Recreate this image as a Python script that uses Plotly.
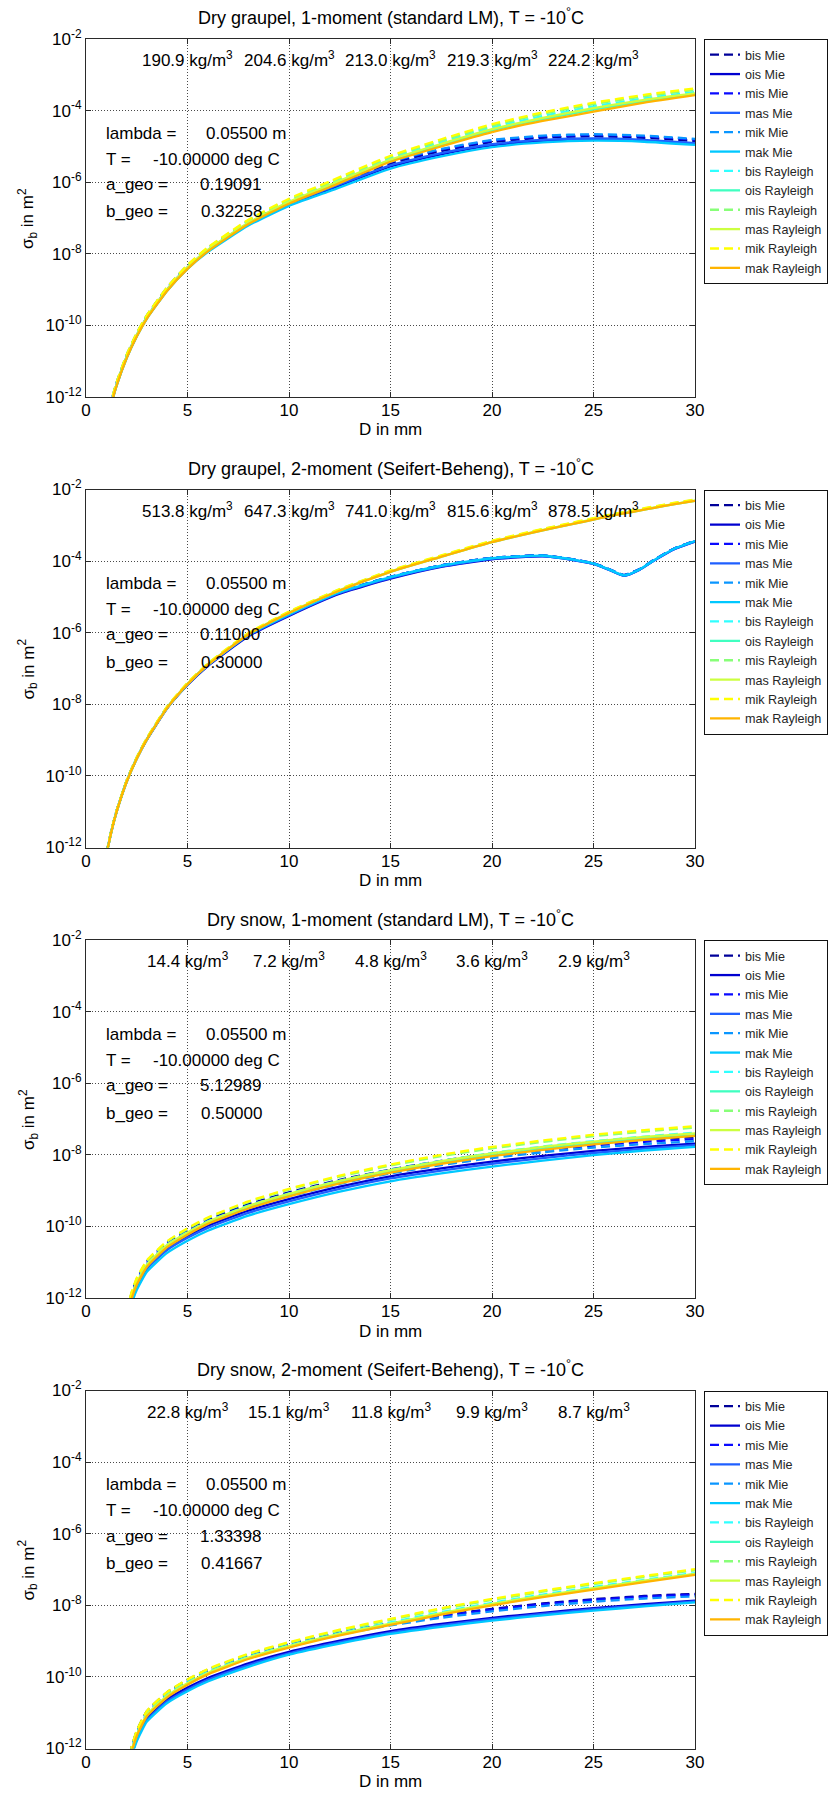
import plotly.graph_objects as go

# ---------------------------------------------------------------------------
# Backscatter cross sections sigma_b (given as log10 of m^2) versus D in mm
# ---------------------------------------------------------------------------
SERIES_NAMES = ["bis Mie", "ois Mie", "mis Mie", "mas Mie", "mik Mie", "mak Mie",
                "bis Rayleigh", "ois Rayleigh", "mis Rayleigh", "mas Rayleigh",
                "mik Rayleigh", "mak Rayleigh"]

# --- dry graupel, 1-moment ---------------------------------------------------
G1_D = [1.0, 1.25, 1.5, 2.0, 2.5, 3.0, 4.0, 5.0, 6.0, 8.0, 10.0, 12.0, 15.0,
        17.5, 20.0, 22.5, 25.0, 27.5, 30.0]
G1_BIS_MIE = [-12.76, -12.14, -11.64, -10.86, -10.25, -9.75, -8.97, -8.36, -7.88, -7.12, -6.56, -6.13, -5.48, -5.13, -4.88, -4.76, -4.72, -4.76, -4.85]
G1_OIS_MIE = [-12.80, -12.18, -11.68, -10.90, -10.29, -9.79, -9.01, -8.40, -7.92, -7.17, -6.62, -6.20, -5.56, -5.22, -4.97, -4.85, -4.81, -4.85, -4.93]
G1_MIS_MIE = [-12.74, -12.12, -11.62, -10.84, -10.23, -9.73, -8.95, -8.33, -7.85, -7.09, -6.53, -6.09, -5.44, -5.09, -4.84, -4.72, -4.68, -4.72, -4.81]
G1_MAS_MIE = [-12.78, -12.16, -11.66, -10.88, -10.27, -9.77, -8.99, -8.38, -7.90, -7.15, -6.60, -6.17, -5.53, -5.19, -4.94, -4.82, -4.78, -4.82, -4.91]
G1_MIK_MIE = [-12.73, -12.11, -11.61, -10.83, -10.22, -9.72, -8.94, -8.32, -7.84, -7.08, -6.51, -6.07, -5.42, -5.07, -4.82, -4.70, -4.66, -4.70, -4.79]
G1_MAK_MIE = [-12.82, -12.20, -11.70, -10.92, -10.31, -9.81, -9.03, -8.42, -7.95, -7.21, -6.66, -6.25, -5.62, -5.28, -5.02, -4.89, -4.84, -4.87, -4.96]
G1_BIS_RAY = [-12.76, -12.14, -11.64, -10.86, -10.25, -9.75, -8.97, -8.36, -7.87, -7.10, -6.52, -6.05, -5.34, -4.89, -4.47, -4.15, -3.88, -3.66, -3.48]
G1_OIS_RAY = [-12.80, -12.18, -11.68, -10.90, -10.29, -9.79, -9.01, -8.40, -7.91, -7.15, -6.57, -6.11, -5.40, -4.96, -4.55, -4.24, -3.97, -3.74, -3.55]
G1_MIS_RAY = [-12.74, -12.12, -11.62, -10.84, -10.23, -9.73, -8.95, -8.33, -7.84, -7.07, -6.49, -6.01, -5.29, -4.84, -4.42, -4.09, -3.82, -3.60, -3.42]
G1_MAS_RAY = [-12.78, -12.16, -11.66, -10.88, -10.27, -9.77, -8.99, -8.38, -7.89, -7.13, -6.55, -6.08, -5.37, -4.93, -4.52, -4.20, -3.93, -3.70, -3.52]
G1_MIK_RAY = [-12.72, -12.10, -11.60, -10.82, -10.21, -9.71, -8.93, -8.31, -7.82, -7.05, -6.46, -5.98, -5.26, -4.80, -4.38, -4.05, -3.78, -3.56, -3.38]
G1_MAK_RAY = [-12.82, -12.20, -11.70, -10.92, -10.31, -9.81, -9.03, -8.42, -7.93, -7.17, -6.60, -6.14, -5.43, -5.00, -4.60, -4.29, -4.03, -3.78, -3.57]

# --- dry graupel, 2-moment ---------------------------------------------------
G2_D = [1.0, 1.25, 1.5, 2.0, 2.5, 3.0, 4.0, 5.0, 6.0, 8.0, 10.0, 12.5, 15.0,
        17.5, 20.0, 22.5, 24.0, 25.0, 25.75, 26.5, 27.25, 28.0, 29.0, 30.0]
G2_BIS_MIE = [-12.19, -11.53, -10.99, -10.14, -9.49, -8.96, -8.08, -7.43, -6.89, -6.05, -5.48, -4.86, -4.44, -4.12, -3.91, -3.84, -3.95, -4.06, -4.22, -4.39, -4.23, -3.96, -3.64, -3.43]
G2_OIS_MIE = [-12.21, -11.56, -11.02, -10.17, -9.52, -8.99, -8.11, -7.46, -6.93, -6.10, -5.53, -4.91, -4.49, -4.16, -3.95, -3.87, -3.97, -4.08, -4.24, -4.41, -4.25, -3.98, -3.66, -3.45]
G2_MIS_MIE = [-12.19, -11.53, -10.99, -10.14, -9.49, -8.96, -8.08, -7.43, -6.89, -6.05, -5.48, -4.86, -4.44, -4.12, -3.91, -3.84, -3.95, -4.06, -4.22, -4.39, -4.23, -3.96, -3.64, -3.43]
G2_MAS_MIE = [-12.21, -11.55, -11.01, -10.16, -9.51, -8.98, -8.10, -7.45, -6.91, -6.08, -5.51, -4.89, -4.47, -4.15, -3.93, -3.86, -3.97, -4.08, -4.24, -4.41, -4.25, -3.98, -3.66, -3.45]
G2_MIK_MIE = [-12.19, -11.53, -10.99, -10.14, -9.49, -8.96, -8.08, -7.43, -6.89, -6.05, -5.48, -4.86, -4.44, -4.12, -3.91, -3.84, -3.95, -4.06, -4.22, -4.39, -4.23, -3.96, -3.64, -3.43]
G2_MAK_MIE = [-12.20, -11.54, -11.00, -10.15, -9.50, -8.97, -8.09, -7.44, -6.90, -6.06, -5.49, -4.87, -4.45, -4.13, -3.92, -3.85, -3.96, -4.07, -4.23, -4.40, -4.24, -3.97, -3.65, -3.44]
G2_BIS_RAY = [-12.20, -11.54, -11.00, -10.15, -9.50, -8.96, -8.08, -7.42, -6.88, -6.03, -5.43, -4.80, -4.28, -3.86, -3.45, -3.12, -2.94, -2.82, -2.73, -2.65, -2.57, -2.49, -2.39, -2.30]
G2_OIS_RAY = [-12.22, -11.56, -11.02, -10.17, -9.52, -8.98, -8.10, -7.44, -6.90, -6.05, -5.45, -4.82, -4.30, -3.88, -3.47, -3.14, -2.96, -2.84, -2.75, -2.67, -2.59, -2.51, -2.41, -2.32]
G2_MIS_RAY = [-12.19, -11.53, -10.99, -10.14, -9.49, -8.95, -8.07, -7.41, -6.87, -6.02, -5.42, -4.79, -4.27, -3.85, -3.44, -3.11, -2.93, -2.81, -2.72, -2.64, -2.56, -2.48, -2.38, -2.29]
G2_MAS_RAY = [-12.21, -11.55, -11.01, -10.16, -9.51, -8.97, -8.09, -7.43, -6.89, -6.04, -5.44, -4.81, -4.29, -3.87, -3.46, -3.13, -2.95, -2.83, -2.74, -2.66, -2.58, -2.50, -2.40, -2.31]
G2_MIK_RAY = [-12.18, -11.52, -10.98, -10.13, -9.48, -8.94, -8.06, -7.40, -6.86, -6.01, -5.41, -4.78, -4.26, -3.84, -3.43, -3.10, -2.92, -2.80, -2.71, -2.63, -2.55, -2.47, -2.37, -2.28]
G2_MAK_RAY = [-12.22, -11.56, -11.02, -10.17, -9.52, -8.98, -8.10, -7.44, -6.90, -6.05, -5.45, -4.82, -4.30, -3.88, -3.47, -3.14, -2.96, -2.84, -2.75, -2.67, -2.59, -2.51, -2.41, -2.32]

# --- dry snow, 1-moment ------------------------------------------------------
S1_D = [2.0, 2.25, 2.5, 3.0, 4.0, 5.0, 6.0, 8.0, 10.0, 12.5, 15.0, 17.5, 20.0,
        22.5, 25.0, 27.5, 30.0]
S1_BIS_MIE = [-12.42, -11.86, -11.48, -10.98, -10.45, -10.10, -9.81, -9.38, -9.05, -8.70, -8.41, -8.17, -7.97, -7.81, -7.68, -7.58, -7.50]
S1_OIS_MIE = [-12.62, -12.04, -11.65, -11.14, -10.61, -10.27, -9.98, -9.56, -9.24, -8.89, -8.60, -8.38, -8.19, -8.03, -7.89, -7.78, -7.69]
S1_MIS_MIE = [-12.46, -11.90, -11.52, -11.02, -10.49, -10.14, -9.85, -9.42, -9.10, -8.75, -8.46, -8.23, -8.03, -7.87, -7.74, -7.64, -7.56]
S1_MAS_MIE = [-12.66, -12.08, -11.70, -11.19, -10.66, -10.32, -10.04, -9.62, -9.30, -8.95, -8.66, -8.44, -8.25, -8.09, -7.95, -7.83, -7.73]
S1_MIK_MIE = [-12.50, -11.94, -11.56, -11.06, -10.53, -10.19, -9.90, -9.48, -9.16, -8.81, -8.52, -8.29, -8.09, -7.93, -7.80, -7.70, -7.62]
S1_MAK_MIE = [-12.74, -12.16, -11.78, -11.27, -10.74, -10.40, -10.12, -9.70, -9.38, -9.03, -8.74, -8.52, -8.33, -8.16, -8.01, -7.88, -7.78]
S1_BIS_RAY = [-12.50, -11.94, -11.56, -11.06, -10.51, -10.16, -9.86, -9.42, -9.08, -8.72, -8.42, -8.17, -7.95, -7.77, -7.62, -7.49, -7.38]
S1_OIS_RAY = [-12.56, -11.99, -11.61, -11.11, -10.56, -10.21, -9.91, -9.47, -9.13, -8.77, -8.47, -8.22, -8.01, -7.83, -7.68, -7.55, -7.45]
S1_MIS_RAY = [-12.40, -11.85, -11.46, -10.97, -10.43, -10.07, -9.77, -9.32, -8.97, -8.61, -8.30, -8.04, -7.82, -7.64, -7.48, -7.35, -7.24]
S1_MAS_RAY = [-12.51, -11.95, -11.57, -11.07, -10.52, -10.17, -9.87, -9.43, -9.09, -8.73, -8.43, -8.18, -7.96, -7.78, -7.63, -7.50, -7.40]
S1_MIK_RAY = [-12.38, -11.83, -11.44, -10.95, -10.41, -10.05, -9.75, -9.30, -8.95, -8.58, -8.27, -8.00, -7.78, -7.60, -7.44, -7.31, -7.20]
S1_MAK_RAY = [-12.58, -12.01, -11.63, -11.13, -10.58, -10.23, -9.93, -9.50, -9.16, -8.80, -8.50, -8.25, -8.04, -7.86, -7.71, -7.58, -7.47]

# --- dry snow, 2-moment ------------------------------------------------------
S2_D = [2.0, 2.25, 2.5, 3.0, 4.0, 5.0, 6.0, 8.0, 10.0, 12.5, 15.0, 17.5, 20.0,
        22.5, 25.0, 27.5, 30.0]
S2_BIS_MIE = [-12.56, -11.96, -11.51, -10.96, -10.43, -10.08, -9.80, -9.38, -9.08, -8.76, -8.50, -8.28, -8.10, -7.95, -7.83, -7.74, -7.68]
S2_OIS_MIE = [-12.75, -12.15, -11.70, -11.15, -10.63, -10.30, -10.03, -9.62, -9.30, -8.99, -8.72, -8.52, -8.35, -8.21, -8.08, -7.97, -7.87]
S2_MIS_MIE = [-12.58, -11.98, -11.53, -10.98, -10.45, -10.10, -9.82, -9.40, -9.10, -8.78, -8.52, -8.30, -8.12, -7.97, -7.85, -7.76, -7.70]
S2_MAS_MIE = [-12.80, -12.20, -11.75, -11.20, -10.68, -10.35, -10.08, -9.67, -9.34, -9.03, -8.76, -8.56, -8.39, -8.24, -8.11, -8.00, -7.89]
S2_MIK_MIE = [-12.62, -12.02, -11.57, -11.02, -10.49, -10.14, -9.86, -9.44, -9.14, -8.82, -8.56, -8.35, -8.17, -8.02, -7.90, -7.81, -7.75]
S2_MAK_MIE = [-12.85, -12.25, -11.80, -11.25, -10.73, -10.40, -10.13, -9.72, -9.38, -9.07, -8.80, -8.60, -8.43, -8.28, -8.15, -8.03, -7.92]
S2_BIS_RAY = [-12.64, -12.04, -11.59, -11.04, -10.51, -10.16, -9.87, -9.44, -9.12, -8.78, -8.48, -8.19, -7.93, -7.70, -7.49, -7.29, -7.10]
S2_OIS_RAY = [-12.68, -12.08, -11.63, -11.08, -10.55, -10.20, -9.91, -9.48, -9.16, -8.82, -8.53, -8.24, -7.98, -7.75, -7.54, -7.33, -7.13]
S2_MIS_RAY = [-12.57, -11.97, -11.52, -10.97, -10.44, -10.09, -9.80, -9.37, -9.05, -8.71, -8.41, -8.11, -7.85, -7.62, -7.41, -7.21, -7.02]
S2_MAS_RAY = [-12.66, -12.06, -11.61, -11.06, -10.53, -10.18, -9.89, -9.46, -9.14, -8.80, -8.51, -8.22, -7.96, -7.73, -7.52, -7.31, -7.12]
S2_MIK_RAY = [-12.55, -11.95, -11.50, -10.95, -10.42, -10.07, -9.78, -9.35, -9.03, -8.68, -8.38, -8.08, -7.82, -7.59, -7.38, -7.18, -6.99]
S2_MAK_RAY = [-12.70, -12.10, -11.65, -11.10, -10.57, -10.22, -9.93, -9.50, -9.18, -8.84, -8.55, -8.26, -8.00, -7.77, -7.56, -7.35, -7.15]

# --- panel texts ---------------------------------------------------------------
TITLES = ["Dry graupel, 1-moment (standard LM), T = -10<sup>°</sup>C",
          "Dry graupel, 2-moment (Seifert-Beheng), T = -10<sup>°</sup>C",
          "Dry snow, 1-moment (standard LM), T = -10<sup>°</sup>C",
          "Dry snow, 2-moment (Seifert-Beheng), T = -10<sup>°</sup>C"]
DENSITY_D = [5, 10, 15, 20, 25]
DENSITIES = [["190.9", "204.6", "213.0", "219.3", "224.2"],
             ["513.8", "647.3", "741.0", "815.6", "878.5"],
             ["14.4", "7.2", "4.8", "3.6", "2.9"],
             ["22.8", "15.1", "11.8", "9.9", "8.7"]]
LAMBDA_TXT = "0.05500 m"
TEMP_TXT = "-10.00000 deg C"
A_GEO = ["0.19091", "0.11000", "5.12989", "1.33398"]
B_GEO = ["0.32258", "0.30000", "0.50000", "0.41667"]

X_TICKS = [0, 5, 10, 15, 20, 25, 30]
Y_EXPONENTS = [-12, -10, -8, -6, -4, -2]

PANELS = [
    (G1_D, [G1_BIS_MIE, G1_OIS_MIE, G1_MIS_MIE, G1_MAS_MIE, G1_MIK_MIE, G1_MAK_MIE,
            G1_BIS_RAY, G1_OIS_RAY, G1_MIS_RAY, G1_MAS_RAY, G1_MIK_RAY, G1_MAK_RAY]),
    (G2_D, [G2_BIS_MIE, G2_OIS_MIE, G2_MIS_MIE, G2_MAS_MIE, G2_MIK_MIE, G2_MAK_MIE,
            G2_BIS_RAY, G2_OIS_RAY, G2_MIS_RAY, G2_MAS_RAY, G2_MIK_RAY, G2_MAK_RAY]),
    (S1_D, [S1_BIS_MIE, S1_OIS_MIE, S1_MIS_MIE, S1_MAS_MIE, S1_MIK_MIE, S1_MAK_MIE,
            S1_BIS_RAY, S1_OIS_RAY, S1_MIS_RAY, S1_MAS_RAY, S1_MIK_RAY, S1_MAK_RAY]),
    (S2_D, [S2_BIS_MIE, S2_OIS_MIE, S2_MIS_MIE, S2_MAS_MIE, S2_MIK_MIE, S2_MAK_MIE,
            S2_BIS_RAY, S2_OIS_RAY, S2_MIS_RAY, S2_MAS_RAY, S2_MIK_RAY, S2_MAK_RAY]),
]

# --- styling -------------------------------------------------------------------
LINE_COLORS = ["#000099", "#0000d0", "#0a0aff", "#1f5fff", "#0a96ff", "#00c8ff",
               "#30ffff", "#40ffc0", "#88ff78", "#ccff40", "#ffff00", "#ffb400"]
LINE_DASHES = ["9px,5px", "solid"] * 6
FONT = "Liberation Sans, Arial, Helvetica, sans-serif"
AXIS_COLOR = "#2a2a2a"

W, H = 828, 1793
AX_LEFT, AX_RIGHT = 86, 695
AX_HEIGHT = 358
PANEL_TOPS = [39, 489.5, 940, 1390.5]


def fx(px):
    return px / W


def fy(py):
    return 1 - py / H


fig = go.Figure()
layout = dict(
    width=W, height=H, autosize=False,
    margin=dict(l=0, r=0, t=0, b=0),
    paper_bgcolor="white", plot_bgcolor="white",
    font=dict(family=FONT, color="black"),
    showlegend=True,
)
annotations = []

for p, (d_vals, series) in enumerate(PANELS):
    suffix = "" if p == 0 else str(p + 1)
    legend_id = "legend" + suffix
    top = PANEL_TOPS[p]
    bottom = top + AX_HEIGHT

    for name, color, dash, log_vals in zip(SERIES_NAMES, LINE_COLORS, LINE_DASHES, series):
        fig.add_trace(go.Scatter(
            x=d_vals, y=[10 ** v for v in log_vals], mode="lines", name=name,
            line=dict(color=color, width=2.3, dash=dash, shape="spline", smoothing=0.5),
            xaxis="x" + suffix, yaxis="y" + suffix, legend=legend_id,
            hoverinfo="skip",
        ))

    axis_common = dict(
        showline=True, linecolor=AXIS_COLOR, linewidth=1, mirror="ticks",
        ticks="inside", ticklen=5, tickcolor=AXIS_COLOR, tickwidth=1,
        showgrid=True, gridcolor="#4a4a4a", gridwidth=1, griddash="1px,2px",
        zeroline=False, automargin=False,
        tickfont=dict(family=FONT, size=17, color="black"),
        fixedrange=True,
    )
    layout["xaxis" + suffix] = dict(
        axis_common, domain=[fx(AX_LEFT), fx(AX_RIGHT)], anchor="y" + suffix,
        range=[0, 30], tickvals=X_TICKS, ticktext=[str(t) for t in X_TICKS],
        ticklabelstandoff=-2,
    )
    layout["yaxis" + suffix] = dict(
        axis_common, domain=[fy(bottom), fy(top)], anchor="x" + suffix,
        type="log", range=[-12, -2],
        tickvals=[10 ** e for e in Y_EXPONENTS],
        ticktext=["10<sup>%d</sup>" % e for e in Y_EXPONENTS],
    )
    # legend box pinned to the right edge of the figure
    layout[legend_id] = dict(
        x=1.0, y=fy(top), xanchor="right", yanchor="top",
        bgcolor="white", bordercolor="#111", borderwidth=1,
        font=dict(family=FONT, size=12.6, color="#262626"),
        itemwidth=30, tracegroupgap=0, traceorder="normal",
        itemclick=False, itemdoubleclick=False,
    )

    # title, axis labels
    annotations.append(dict(
        text=TITLES[p], xref="paper", yref="paper",
        x=fx((AX_LEFT + AX_RIGHT) / 2), y=fy(top - 22),
        xanchor="center", yanchor="middle", showarrow=False,
        font=dict(family=FONT, size=18, color="black"),
    ))
    annotations.append(dict(
        text="D in mm", xref="paper", yref="paper",
        x=fx((AX_LEFT + AX_RIGHT) / 2), y=fy(bottom + 33),
        xanchor="center", yanchor="middle", showarrow=False,
        font=dict(family=FONT, size=17, color="black"),
    ))
    annotations.append(dict(
        text="σ<sub>b</sub> in m<sup>2</sup>", xref="paper", yref="paper",
        x=fx(28), y=fy((top + bottom) / 2), textangle=-90,
        xanchor="center", yanchor="middle", showarrow=False,
        font=dict(family=FONT, size=17, color="black"),
    ))

    # bulk densities at the top of the axes
    for dpos, rho in zip(DENSITY_D, DENSITIES[p]):
        annotations.append(dict(
            text="%s kg/m<sup>3</sup>" % rho, xref="x" + suffix, yref="paper",
            x=dpos, y=fy(top + 20), xanchor="center", yanchor="middle",
            showarrow=False, font=dict(family=FONT, size=17, color="black"),
        ))

    # parameter block
    rows = [("lambda =", LAMBDA_TXT, 204, 94),
            ("T =", TEMP_TXT, 151, 120),
            ("a_geo =", A_GEO[p], 198, 145.5),
            ("b_geo =", B_GEO[p], 199, 173)]
    for label, value, vx, dy in rows:
        annotations.append(dict(
            text=label, xref="paper", yref="paper", x=fx(104), y=fy(top + dy),
            xanchor="left", yanchor="middle", showarrow=False,
            font=dict(family=FONT, size=17, color="black"),
        ))
        annotations.append(dict(
            text=value, xref="paper", yref="paper", x=fx(vx), y=fy(top + dy),
            xanchor="left", yanchor="middle", showarrow=False,
            font=dict(family=FONT, size=17, color="black"),
        ))

layout["annotations"] = annotations
fig.update_layout(**layout)

# the page body gets no default margin so the figure fills the window exactly
fig.write_html("out.html", post_script="document.body.style.margin = '0';")
